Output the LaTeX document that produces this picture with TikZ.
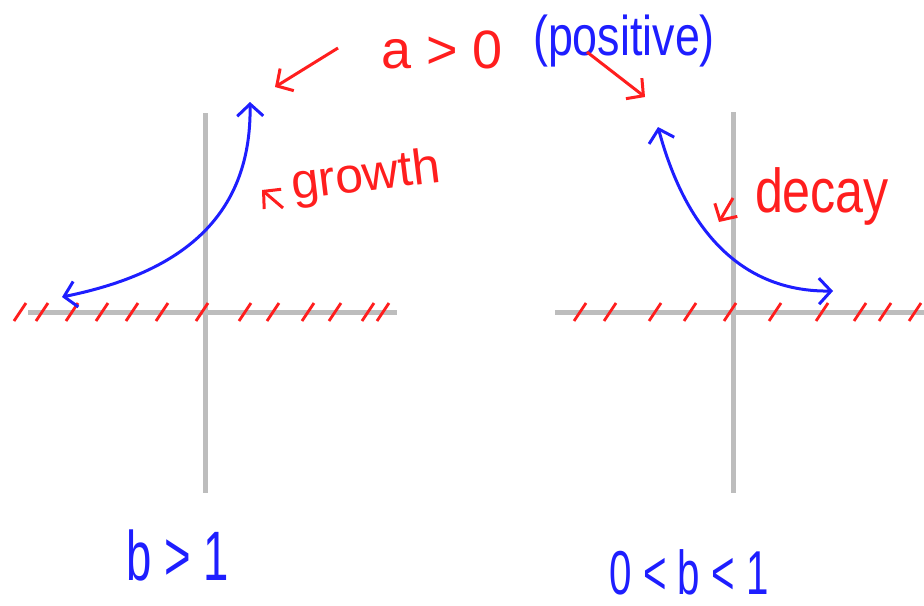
\documentclass[tikz,border=0pt]{standalone}
\usepackage{fontspec}
\setmainfont{Liberation Sans}
\usepackage{tikz}
\usetikzlibrary{arrows.meta}
\definecolor{inkred}{HTML}{FF1E1E}
\definecolor{inkblue}{HTML}{1E1EFF}
\definecolor{axisgray}{HTML}{BDBDBD}

\begin{document}
\begin{tikzpicture}[x=0.5pt, y=-0.5pt, >={Straight Barb[length=6pt, width=13pt]},
    axisline/.style={axisgray, line width=2.5pt},
    hatch/.style={inkred, line width=1.4pt},
    curve/.style={inkblue, line width=1.5pt, <->},
    pointer/.style={inkred, line width=1.5pt, ->},
    hand/.style={inner sep=0pt}]
    \useasboundingbox (0,0) rectangle (924,605);

    % Axes
    \draw[axisline] (28,312) -- (397,312);
    \draw[axisline] (205,113) -- (205,493);
    \draw[axisline] (555,312) -- (924,312);
    \draw[axisline] (733,112) -- (733,493);

    % Hatch marks along both x-axes
    \foreach \hx in {20,42,72,102,132,162,202,245,273,308,335,368,383,580,610,655,690,730,775,822,860,885,915}{
        \draw[hatch] (\hx-6,321) -- (\hx+6,303);
    }

    % Growth curve (b > 1)
    \coordinate (gLow) at (62,297);
    \coordinate (gHigh) at (250,102);
    \draw[curve] (gLow) .. controls (170,275) and (252,225) .. (gHigh);

    % Decay curve (0 < b < 1)
    \coordinate (dHigh) at (658,127);
    \coordinate (dLow) at (833,291);
    \draw[curve] (dHigh) .. controls (687,235) and (745,292) .. (dLow);

    % Labels
    \node[hand, inkred, font=\fontsize{27}{27}\selectfont] (asign) at (442,50) {a > 0};
    \node[hand, inkblue, font=\fontsize{28}{28}\selectfont, xscale=0.8] (posit) at (624,41) {(positive)};
    \node[hand, inkred, font=\fontsize{25}{25}\selectfont, rotate=7] (grow) at (366,178) {growth};
    \node[hand, inkred, font=\fontsize{31}{31}\selectfont, xscale=0.81] (decay) at (822,196) {decay};
    \node[hand, inkblue, font=\fontsize{35}{35}\selectfont, xscale=0.65] (bgt) at (178,555) {b > 1};
    \node[hand, inkblue, font=\fontsize{31}{31}\selectfont, xscale=0.65] (blt) at (689,572) {0 < b < 1};

    % Pointers
    \coordinate (aTail) at (338,48);
    \coordinate (aTip) at (275,87);
    \draw[pointer] (aTail) -- (aTip);
    \coordinate (pTail) at (587,52);
    \coordinate (pTip) at (645,97);
    \draw[pointer] (pTail) -- (pTip);
    \coordinate (grTail) at (283,208);
    \coordinate (grTip) at (262,190);
    \draw[pointer] (grTail) -- (grTip);
    \coordinate (dcTail) at (733,198);
    \coordinate (dcTip) at (719,222);
    \draw[pointer] (dcTail) -- (dcTip);
\end{tikzpicture}
\end{document}
